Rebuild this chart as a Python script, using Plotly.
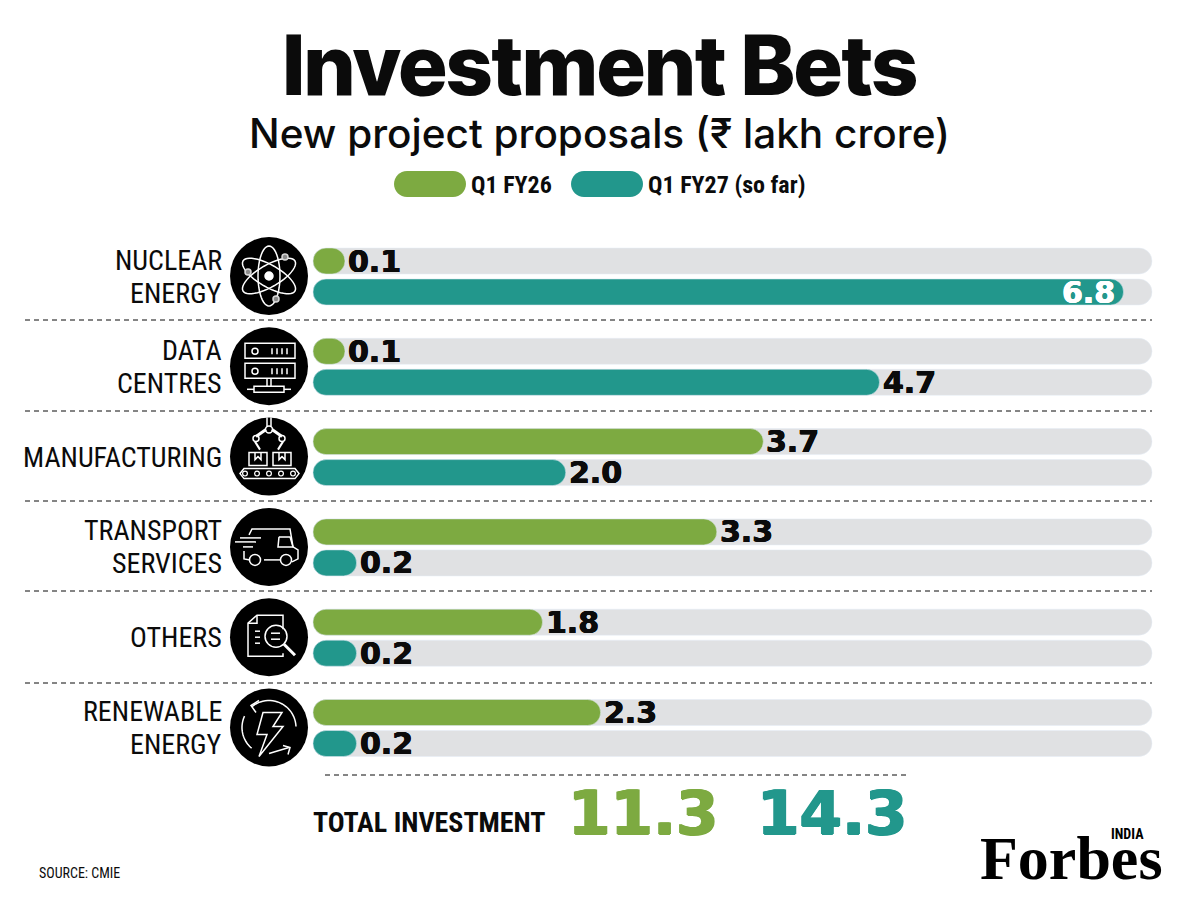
import math
import plotly.graph_objects as go

# Chart data (₹ lakh crore)
CATEGORIES = ["Nuclear energy", "Data centres", "Manufacturing", "Transport services", "Others", "Renewable energy"]
CATEGORY_LINES = [["NUCLEAR", "ENERGY"], ["DATA", "CENTRES"], ["MANUFACTURING"], ["TRANSPORT", "SERVICES"], ["OTHERS"], ["RENEWABLE", "ENERGY"]]
Q1_FY26 = [0.1, 0.1, 3.7, 3.3, 1.8, 2.3]
Q1_FY27 = [6.8, 4.7, 2.0, 0.2, 0.2, 0.2]
TOTALS = ["11.3", "14.3"]
SERIES_NAMES = ["Q1 FY26", "Q1 FY27 (so far)"]

GREEN = "#7DAA41"
TEAL = "#22978C"
TRACK = "#E0E1E3"
INK = "#0B0B0B"

W, H = 1200, 900
NARROW = "Roboto Condensed"
WIDE = "DejaVu Sans"

# Axis geometry: value v ends at pixel X0 + K * v; pills start a little left of zero
X0, K = 333.4, 116.2
PAD = (X0 - 313) / K
TRACK_END = (1152 - X0) / K
ROW0, ROW_STEP = 276.5, 90.3


def px(x):
    return x / W


def py(y):
    return 1 - y / H


def heavy(color, amount):
    # Thickens a glyph slightly with a tight text shadow
    return f"{amount}px 0 0 {color}, -{amount}px 0 0 {color}, 0 {amount / 2}px 0 {color}"


def text(s, x, y, size, color=INK, family=NARROW, anchor="right", weight=400, shadow=None):
    font = dict(size=size, color=color, family=family, weight=weight)
    if shadow:
        font["shadow"] = shadow
    return dict(text=s, x=px(x), y=py(y), xref="paper", yref="paper", showarrow=False,
                xanchor=anchor, yanchor="middle", borderpad=0, font=font)


fig = go.Figure()

for name, values, color, group in [(SERIES_NAMES[0], Q1_FY26, GREEN, "a"), (SERIES_NAMES[1], Q1_FY27, TEAL, "b")]:
    fig.add_trace(go.Bar(y=CATEGORIES, x=[TRACK_END + PAD] * len(CATEGORIES), base=-PAD, orientation="h",
                         offsetgroup=group, alignmentgroup="rows", marker=dict(color=TRACK, cornerradius=13),
                         hoverinfo="skip", showlegend=False))
for name, values, color, group in [(SERIES_NAMES[0], Q1_FY26, GREEN, "a"), (SERIES_NAMES[1], Q1_FY27, TEAL, "b")]:
    fig.add_trace(go.Bar(y=CATEGORIES, x=[v + PAD for v in values], base=-PAD, orientation="h", name=name,
                         offsetgroup=group, alignmentgroup="rows", marker=dict(color=color, cornerradius=13),
                         customdata=values, hovertemplate="%{y}: %{customdata}<extra>" + name + "</extra>",
                         showlegend=False))

annotations = []

# Value labels tied to the bar ends
for values, shift in [(Q1_FY26, -15.5), (Q1_FY27, 15.5)]:
    for cat, v in zip(CATEGORIES, values):
        inside = v > 6
        col = "white" if inside else INK
        annotations.append(dict(text=f"{v:.1f}", x=v, y=cat, xref="x", yref="y", showarrow=False,
                                xanchor="right" if inside else "left", yanchor="middle",
                                xshift=-8 if inside else 2, yshift=-shift, borderpad=0,
                                font=dict(size=30, color=col, family=WIDE, weight=700, shadow=heavy(col, 0.5))))

# Category names, one annotation per line
for cat, lines in zip(CATEGORIES, CATEGORY_LINES):
    for j, line_text in enumerate(lines):
        offset = (j - (len(lines) - 1) / 2) * 33
        annotations.append(dict(text=line_text, x=px(223), y=cat, xref="paper", yref="y", showarrow=False,
                                xanchor="right", yanchor="middle", yshift=-offset, borderpad=0,
                                font=dict(size=28, color=INK, family=NARROW)))

annotations += [
    text("Investment Bets", 600, 65, 83, family="Inter Tight", anchor="center", weight=800),
    text("New project proposals (₹ lakh crore)", 599, 133, 40.5, family="Inter", anchor="center", weight=500),
    text(SERIES_NAMES[0], 470, 185, 24, anchor="left", weight=700),
    text(SERIES_NAMES[1], 647, 185, 24, anchor="left", weight=700),
    text("TOTAL INVESTMENT", 312, 822, 28, anchor="left", weight=700),
    text(TOTALS[0], 643, 812, 61, color=GREEN, family=WIDE, anchor="center", weight=700, shadow=heavy(GREEN, 1)),
    text(TOTALS[1], 832, 812, 61, color=TEAL, family=WIDE, anchor="center", weight=700, shadow=heavy(TEAL, 1)),
    text("SOURCE: CMIE", 38, 873, 14, anchor="left"),
    text("Forbes", 1071, 858, 62, color="black", family="Liberation Serif", anchor="center", weight=700),
    text("INDIA", 1127, 834, 14, color="black", anchor="center", weight=700),
]

shapes = []


def pill(x0, x1, y, h, color):
    r = h / 2
    k = r * 0.5523
    t, b = py(y - r), py(y + r)
    m = py(y)
    path = (f"M {px(x0 + r)} {t} L {px(x1 - r)} {t} "
            f"C {px(x1 - r + k)} {t} {px(x1)} {py(y - k)} {px(x1)} {m} "
            f"C {px(x1)} {py(y + k)} {px(x1 - r + k)} {b} {px(x1 - r)} {b} "
            f"L {px(x0 + r)} {b} "
            f"C {px(x0 + r - k)} {b} {px(x0)} {py(y + k)} {px(x0)} {m} "
            f"C {px(x0)} {py(y - k)} {px(x0 + r - k)} {t} {px(x0 + r)} {t} Z")
    shapes.append(dict(type="path", xref="paper", yref="paper", path=path, fillcolor=color, line=dict(width=0)))


def dashed(x0, x1, y):
    shapes.append(dict(type="line", xref="paper", yref="paper", x0=px(x0), x1=px(x1), y0=py(y), y1=py(y),
                       line=dict(color=INK, width=1, dash="5px,4px")))


pill(394, 466, 184, 26, GREEN)
pill(571, 643, 184, 26, TEAL)
for y in [320, 411, 501, 591, 683]:
    dashed(25, 1152, y)
dashed(325, 908, 775)


# Icon primitives, drawn in pixels relative to the badge centre
def line(cx, cy, pts, close=False, width=1.5, color="white", fill=None):
    d = "M " + " L ".join(f"{px(cx + a)} {py(cy + b)}" for a, b in pts) + (" Z" if close else "")
    shapes.append(dict(type="path", xref="paper", yref="paper", path=d, line=dict(color=color, width=width),
                       fillcolor=fill if fill else "rgba(0,0,0,0)"))


def circle(cx, cy, a, b, r, width=1.5, color="white", fill=None):
    shapes.append(dict(type="circle", xref="paper", yref="paper", x0=px(cx + a - r), x1=px(cx + a + r),
                       y0=py(cy + b + r), y1=py(cy + b - r), line=dict(color=color, width=width),
                       fillcolor=fill if fill else "rgba(0,0,0,0)"))


def arc(a0, a1, r, n=24):
    return [(r * math.cos(math.radians(a0 + (a1 - a0) * i / n)), r * math.sin(math.radians(a0 + (a1 - a0) * i / n)))
            for i in range(n + 1)]


def ellipse(ra, rb, rot, n=48):
    c, s = math.cos(math.radians(rot)), math.sin(math.radians(rot))
    out = []
    for i in range(n):
        t = 2 * math.pi * i / n
        u, v = ra * math.cos(t), rb * math.sin(t)
        out.append((u * c - v * s, u * s + v * c))
    return out


def atom(cx, cy):
    for rot in (30, 90, 150):
        line(cx, cy, ellipse(30, 11, rot), close=True)
    circle(cx, cy, 0, 0, 4, fill="white")
    for a, b in [(16, -19), (-21, -4), (7, 23)]:
        circle(cx, cy, a, b, 3, color="#D8D8D8", fill="#8A8A8A")


def servers(cx, cy):
    for top in (-23, -3):
        line(cx, cy, [(-24, top), (26, top), (26, top + 15), (-24, top + 15)], close=True)
        circle(cx, cy, -14, top + 8, 3)
        for a in (3, 8, 13, 18):
            line(cx, cy, [(a, top + 5), (a, top + 11)])
    for a in (-2, 2):
        line(cx, cy, [(a, 12), (a, 20)])
    line(cx, cy, [(-15, 20), (15, 20), (15, 26), (-15, 26)], close=True)
    line(cx, cy, [(-22, 23), (-15, 23)])
    line(cx, cy, [(15, 23), (22, 23)])


def factory(cx, cy):
    for a in (-2, 2):
        line(cx, cy, [(a, -39), (a, -30)])
    circle(cx, cy, 0, -27, 3.5)
    for sign in (-1, 1):
        line(cx, cy, [(sign * 3, -27), (sign * 13, -20)], width=3)
        circle(cx, cy, sign * 13, -18, 3)
        line(cx, cy, [(sign * 14, -15), (sign * 9, -7)], width=2)
    for x0 in (-20, 4):
        line(cx, cy, [(x0, -4), (x0 + 18, -4), (x0 + 18, 9), (x0, 9)], close=True)
        line(cx, cy, [(x0 + 6, -4), (x0 + 6, 3), (x0 + 9, 0), (x0 + 12, 3), (x0 + 12, -4)])
    line(cx, cy, [(-25, 12), (26, 12), (30, 17), (26, 22), (-25, 22), (-29, 17)], close=True)
    for a in (-24, -12, 0, 12, 24):
        circle(cx, cy, a, 17, 2.4, width=1.2)


def van(cx, cy):
    line(cx, cy, [(-20, -12), (-17, -18), (21, -18), (24, 0), (29, 3), (29, 12), (23, 15)])
    line(cx, cy, [(10, -10), (21, -10), (24, 0), (9, 0), (10, -10)])
    line(cx, cy, [(-5, 13), (12, 13)])
    line(cx, cy, [(-25, 4), (-25, 12), (-19, 13)])
    circle(cx, cy, -14, 13, 5.5)
    circle(cx, cy, 17, 13, 5.5)
    line(cx, cy, [(-29, -9), (-8, -9)])
    line(cx, cy, [(-34, -5), (-13, -5)])
    line(cx, cy, [(-26, 0), (-16, 0)])


def document(cx, cy):
    line(cx, cy, [(14, -8), (14, -22), (-12, -22), (-21, -14), (-21, 19), (14, 19), (14, 16)])
    line(cx, cy, [(-12, -22), (-12, -14), (-21, -14)])
    for y, x1 in [(-6, -9), (0, -9), (6, -9)]:
        line(cx, cy, [(-14, y), (x1, y)])
    circle(cx, cy, 7, -1, 11)
    line(cx, cy, [(2, -4), (11, -4)])
    line(cx, cy, [(2, 2), (11, 2)])
    line(cx, cy, [(15, 7), (26, 18)], width=3)


def bolt(cx, cy):
    line(cx, cy, [(-6, -15), (13, -15), (4, -1), (14, -1), (-10, 29), (-2, 7), (-12, 7)], close=True)
    line(cx, cy, arc(-130, -2, 27))
    line(cx, cy, arc(205, 130, 27))
    line(cx, cy, [(-13, -15), (-18, -22), (-10, -27)])
    line(cx, cy, [(0, 26), (20, 20)])
    line(cx, cy, [(14, 18), (21, 20), (19, 27)])


for row, draw in enumerate([atom, servers, factory, van, document, bolt]):
    cy = ROW0 + ROW_STEP * row - 0.5
    circle(269, cy, 0, 0, 39, width=0, color="black", fill="black")
    draw(269, cy)

fig.update_layout(
    width=W, height=H, margin=dict(l=0, r=0, t=0, b=0), paper_bgcolor="white", plot_bgcolor="white",
    barmode="group", bargap=1 - 62 / ROW_STEP, bargroupgap=5 / 31,
    xaxis=dict(visible=False, range=[-X0 / K, (W - X0) / K], domain=[0, 1], fixedrange=True),
    yaxis=dict(visible=False, type="category", categoryorder="array", categoryarray=CATEGORIES,
               range=[(H - ROW0) / ROW_STEP, -ROW0 / ROW_STEP], domain=[0, 1], fixedrange=True),
    annotations=annotations, shapes=shapes, showlegend=False,
)

fig.write_html("out.html", config=dict(displayModeBar=False))
